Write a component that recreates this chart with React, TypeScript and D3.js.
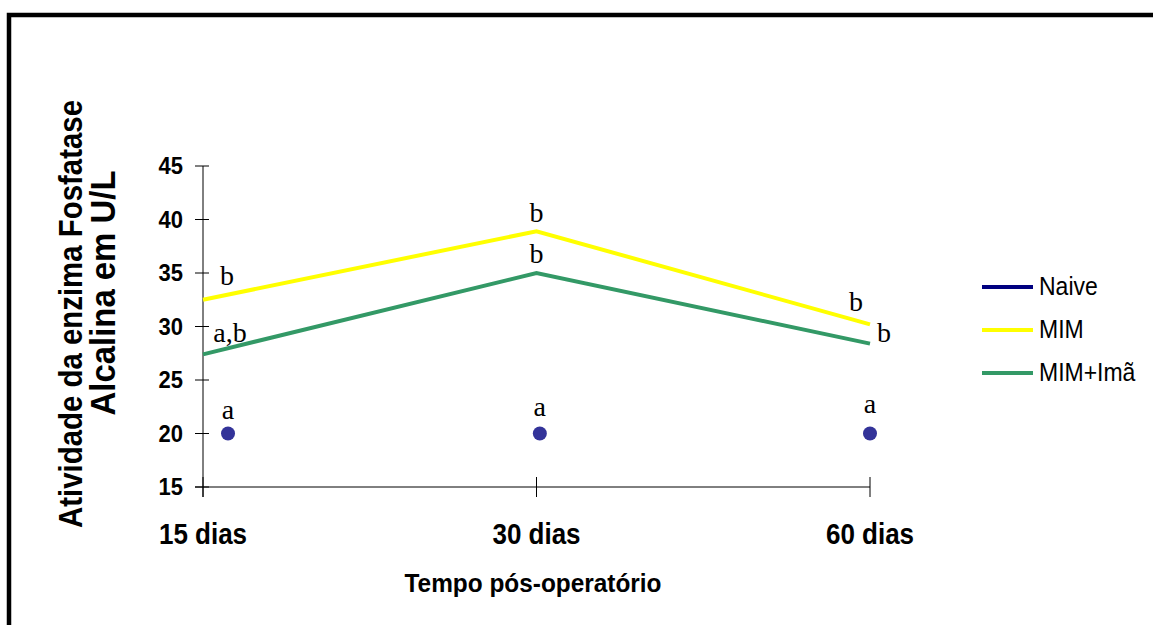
import React from "react";
import * as d3 from "d3";

const categories = ["15 dias", "30 dias", "60 dias"];
const yTicks = [15, 20, 25, 30, 35, 40, 45];
const mimValues = [32.5, 38.9, 30.2];
const mimImaValues = [27.4, 35.0, 28.4];
const naiveValues = [20, 20, 20];
const naivePos = [0.075, 1.01, 2.0];

const legendNames = ["Naive", "MIM", "MIM+Imã"];
const legendColors = ["#000080", "#FFFF00", "#339966"];

// significance letters: category position (fractional index), value height, text
const letterPos = [0.072, 0.081, 1.0, 1.0, 1.958, 2.042, 0.075, 1.01, 2.0];
const letterVal = [33.88, 28.55, 39.77, 35.93, 31.45, 28.55, 21.36, 21.64, 21.92];
const letterText = ["b", "a,b", "b", "b", "b", "b", "a", "a", "a"];

export default function App() {
  const W = 1153, H = 625;
  const x = d3.scaleLinear().domain([0, 2]).range([203, 870]);
  const y = d3.scaleLinear().domain([15, 45]).range([487, 166]);
  const xCat = d3.scalePoint<string>().domain(categories).range([203, 870]).padding(0);

  const line = d3
    .line<number>()
    .x((_, i) => xCat(categories[i]) as number)
    .y((d) => y(d));

  const sans = "'Liberation Sans', Arial, sans-serif";
  const serif = "'Liberation Serif', 'Times New Roman', serif";

  return (
    <svg width={W} height={H} style={{ position: "absolute", left: 0, top: 0, background: "#fff" }}>
      <rect x={0} y={0} width={W} height={H} fill="#fff" />
      {/* frame */}
      <path d={`M9,${H + 10} V15 H${W + 10}`} fill="none" stroke="#000" strokeWidth={4.5} />

      {/* y axis */}
      <line x1={203} x2={203} y1={y(45)} y2={y(15) + 10} stroke="#000" strokeWidth={1} />
      {yTicks.map((t) => (
        <g key={t}>
          <line x1={195} x2={209} y1={y(t)} y2={y(t)} stroke="#000" strokeWidth={1} />
          <text
            transform={`translate(183,${y(t) + 8}) scale(1,1.08)`}
            textAnchor="end"
            fontFamily={sans}
            fontWeight="bold"
            fontSize={22}
          >
            {t}
          </text>
        </g>
      ))}

      {/* x axis */}
      <line x1={195} x2={870} y1={y(15)} y2={y(15)} stroke="#000" strokeWidth={1} />
      {categories.map((c) => (
        <g key={c}>
          <line x1={xCat(c)} x2={xCat(c)} y1={y(15) - 10} y2={y(15) + 10} stroke="#000" strokeWidth={1} />
          <text
            transform={`translate(${xCat(c)},544) scale(1,1.14)`}
            textAnchor="middle"
            fontFamily={sans}
            fontWeight="bold"
            fontSize={26}
          >
            {c}
          </text>
        </g>
      ))}

      {/* titles */}
      <text
        transform="translate(533,592) scale(1,1.1)"
        textAnchor="middle"
        fontFamily={sans}
        fontWeight="bold"
        fontSize={23}
        textLength={257}
        lengthAdjust="spacingAndGlyphs"
      >
        Tempo pós-operatório
      </text>
      <text
        transform="translate(82,314) rotate(-90) scale(1,1.15)"
        textAnchor="middle"
        fontFamily={sans}
        fontWeight="bold"
        fontSize={29}
        textLength={428}
        lengthAdjust="spacingAndGlyphs"
      >
        Atividade da enzima Fosfatase
      </text>
      <text
        transform="translate(115,293) rotate(-90) scale(1,1.15)"
        textAnchor="middle"
        fontFamily={sans}
        fontWeight="bold"
        fontSize={30}
        textLength={245}
        lengthAdjust="spacingAndGlyphs"
      >
        Alcalina em U/L
      </text>

      {/* lines */}
      <path d={line(mimValues) || ""} fill="none" stroke={legendColors[1]} strokeWidth={4} />
      <path d={line(mimImaValues) || ""} fill="none" stroke={legendColors[2]} strokeWidth={4} />

      {/* naive points */}
      {naiveValues.map((v, i) => (
        <circle key={i} cx={x(naivePos[i])} cy={y(v)} r={7} fill="#333399" />
      ))}

      {/* letters */}
      {letterText.map((t, i) => (
        <text
          key={i}
          x={x(letterPos[i])}
          y={y(letterVal[i])}
          textAnchor="middle"
          fontFamily={serif}
          fontSize={28}
        >
          {t}
        </text>
      ))}

      {/* legend */}
      {legendNames.map((n, i) => (
        <g key={n}>
          <line x1={982} x2={1033} y1={287 + i * 43} y2={287 + i * 43} stroke={legendColors[i]} strokeWidth={4} />
          <text transform={`translate(1039,${295 + i * 43}) scale(1,1.1)`} fontFamily={sans} fontSize={23}>
            {n}
          </text>
        </g>
      ))}
    </svg>
  );
}
